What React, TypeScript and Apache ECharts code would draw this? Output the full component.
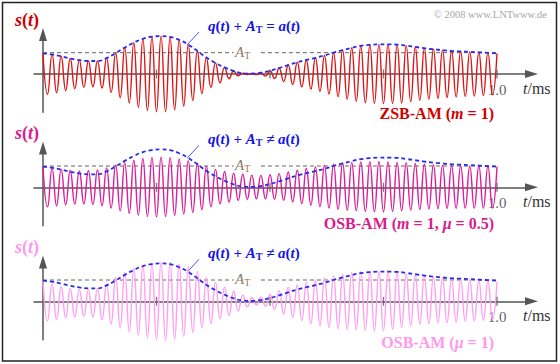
import React, { useEffect, useRef } from "react";
import * as echarts from "echarts";

// time step between successive carrier extremes (ms) and between envelope samples (ms)
const PEAK_STEP = 0.01;
const ENV_STEP = 0.02;
const A_T = 1; // carrier amplitude level
const AT_GAP = [0.42, 0.48]; // gap of the A_T reference line around its label
const xTickValues = [0.25, 0.5, 0.75, 1.0];
const xTickLabels = [1.0];

// envelope q(t) + A_T = a(t), sampled every 0.02 ms
const envelope = [
  0.97, 0.92, 0.83, 0.73, 0.65, 0.61, 0.61, 0.75, 0.98, 1.24, 1.47, 1.65, 1.75,
  1.78, 1.74, 1.6, 1.38, 1.08, 0.77, 0.52, 0.31, 0.14, 0.04, 0.02, 0.06, 0.15,
  0.28, 0.42, 0.55, 0.66, 0.76, 0.87, 1.0, 1.12, 1.23, 1.32, 1.37, 1.39, 1.39,
  1.38, 1.33, 1.27, 1.21, 1.16, 1.12, 1.08, 1.06, 1.04, 1.02, 0.99, 0.97,
];

// carrier extremes of s(t), one every 0.01 ms
const zsbPeaks = [
  0.97, -0.95, 0.92, -0.88, 0.83, -0.78, 0.73, -0.69, 0.65, -0.62,
  0.61, -0.6, 0.61, -0.66, 0.75, -0.86, 0.98, -1.11, 1.24, -1.36,
  1.47, -1.57, 1.65, -1.71, 1.75, -1.77, 1.78, -1.77, 1.74, -1.68,
  1.6, -1.5, 1.38, -1.24, 1.08, -0.92, 0.77, -0.63, 0.52, -0.41,
  0.31, -0.22, 0.14, -0.08, 0.04, -0.02, 0.02, -0.03, 0.06, -0.1,
  0.15, -0.21, 0.28, -0.35, 0.42, -0.49, 0.55, -0.61, 0.66, -0.71,
  0.76, -0.81, 0.87, -0.94, 1.0, -1.06, 1.12, -1.18, 1.23, -1.28,
  1.32, -1.35, 1.37, -1.38, 1.39, -1.39, 1.39, -1.39, 1.38, -1.36,
  1.33, -1.3, 1.27, -1.24, 1.21, -1.18, 1.16, -1.14, 1.12, -1.1,
  1.08, -1.07, 1.06, -1.05, 1.04, -1.03, 1.02, -1.01, 0.99, -0.98,
  0.97,
];

const osbHalfPeaks = [
  0.97, -0.92, 0.89, -0.87, 0.84, -0.82, 0.79, -0.79, 0.77, -0.78,
  0.78, -0.8, 0.81, -0.86, 0.91, -0.97, 1.04, -1.1, 1.16, -1.22,
  1.27, -1.31, 1.35, -1.37, 1.4, -1.39, 1.41, -1.37, 1.39, -1.32,
  1.33, -1.25, 1.25, -1.18, 1.13, -1.05, 0.98, -0.91, 0.84, -0.78,
  0.74, -0.69, 0.66, -0.62, 0.61, -0.57, 0.57, -0.54, 0.56, -0.54,
  0.59, -0.56, 0.64, -0.61, 0.72, -0.68, 0.8, -0.76, 0.88, -0.84,
  0.96, -0.91, 1.03, -0.97, 1.09, -1.03, 1.14, -1.07, 1.17, -1.1,
  1.19, -1.13, 1.2, -1.15, 1.2, -1.15, 1.19, -1.13, 1.17, -1.1,
  1.15, -1.07, 1.12, -1.04, 1.08, -1.02, 1.05, -1.0, 1.03, -0.99,
  1.01, -0.98, 1.0, -0.98, 0.99, -0.98, 0.99, -0.98, 0.98, -0.98,
  0.97,
];

const osbFullPeaks = [
  0.97, -0.92, 0.8, -0.85, 0.68, -0.78, 0.6, -0.74, 0.56, -0.71,
  0.55, -0.75, 0.6, -0.86, 0.8, -1.07, 1.12, -1.25, 1.36, -1.42,
  1.54, -1.58, 1.68, -1.72, 1.78, -1.82, 1.82, -1.85, 1.82, -1.78,
  1.75, -1.64, 1.6, -1.45, 1.4, -1.25, 1.12, -1.05, 0.89, -0.82,
  0.67, -0.66, 0.47, -0.46, 0.29, -0.26, 0.17, -0.17, 0.19, -0.23,
  0.32, -0.38, 0.5, -0.6, 0.66, -0.76, 0.77, -0.91, 0.89, -1.06,
  0.98, -1.15, 1.1, -1.23, 1.19, -1.28, 1.27, -1.32, 1.35, -1.34,
  1.4, -1.37, 1.41, -1.38, 1.39, -1.38, 1.37, -1.32, 1.34, -1.23,
  1.28, -1.15, 1.22, -1.08, 1.16, -1.05, 1.12, -1.0, 1.08, -1.0,
  1.05, -0.97, 1.02, -0.93, 1.0, -0.92, 0.97, -0.89, 0.95, -0.86,
  0.93,
];

const panelTitles = ["ZSB-AM", "OSB-AM", "OSB-AM"];
const panelParams = [
  [["m", " = 1"]],
  [["m", " = 1, "], ["μ", " = 0.5"]],
  [["μ", " = 1"]],
];
const envelopeRelations = ["=", "≠", "≠"];

const SERIF = "'Liberation Serif', 'DejaVu Serif', serif";
const panels = [
  { axisY: 74, peaks: zsbPeaks, color: "#dd1414", labelColor: "#cc0000", labelY: 113 },
  { axisY: 187.3, peaks: osbHalfPeaks, color: "#dc1c98", labelColor: "#d81b8f", labelY: 223 },
  { axisY: 301.3, peaks: osbFullPeaks, color: "#ff9ef2", labelColor: "#ff99ee", labelY: 342 },
];

const PX_PER_MS = 454;
const T0_X = 43;
const X_MIN = -0.02;
const X_MAX = 1.076;
const PX_PER_UNIT = 21.3;
const Y_MIN = -1.8;
const Y_MAX = 1.85;

export default function App() {
  const ref = useRef<HTMLDivElement>(null);
  useEffect(() => {
    if (!ref.current) return;
    const chart = echarts.init(ref.current, undefined, { renderer: "svg" });

    const grids: any[] = [];
    const xAxes: any[] = [];
    const yAxes: any[] = [];
    const series: any[] = [];
    const graphics: any[] = [];

    graphics.push({
      type: "rect",
      shape: { x: 2.5, y: 2.5, width: 554, height: 358.5 },
      style: { fill: "none", stroke: "#222", lineWidth: 1.5 },
      z: 10,
    });
    graphics.push({
      type: "text",
      x: 547,
      y: 14,
      style: {
        text: "© 2008 www.LNTwww.de",
        fill: "#a8a8a8",
        font: `10.5px ${SERIF}`,
        align: "right",
        verticalAlign: "middle",
      },
    });

    panels.forEach((p, i) => {
      grids.push({
        left: T0_X + X_MIN * PX_PER_MS,
        width: (X_MAX - X_MIN) * PX_PER_MS,
        top: p.axisY - Y_MAX * PX_PER_UNIT,
        height: (Y_MAX - Y_MIN) * PX_PER_UNIT,
      });
      xAxes.push({
        type: "value",
        gridIndex: i,
        min: X_MIN,
        max: X_MAX,
        axisLine: {
          onZero: true,
          symbol: ["none", "triangle"],
          symbolSize: [8, 13],
          lineStyle: { color: "#555", width: 1.5 },
        },
        axisTick: { show: false },
        axisLabel: { show: false },
        splitLine: { show: false },
      });
      yAxes.push({
        type: "value",
        gridIndex: i,
        min: Y_MIN,
        max: Y_MAX,
        axisLine: {
          onZero: true,
          symbol: ["none", "triangle"],
          symbolSize: [8, 13],
          lineStyle: { color: "#555", width: 1.5 },
        },
        axisTick: { show: false },
        axisLabel: { show: false },
        splitLine: { show: false },
      });

      const atStyle = { color: "#666", width: 1, type: [4, 3] };
      series.push({
        type: "line",
        xAxisIndex: i,
        yAxisIndex: i,
        data: [[0, A_T], [AT_GAP[0], A_T]],
        symbol: "none",
        lineStyle: atStyle,
        silent: true,
      });
      series.push({
        type: "line",
        xAxisIndex: i,
        yAxisIndex: i,
        data: [[AT_GAP[1], A_T], [1, A_T]],
        symbol: "none",
        lineStyle: atStyle,
        silent: true,
      });
      series.push({
        type: "line",
        xAxisIndex: i,
        yAxisIndex: i,
        data: p.peaks.map((v, k) => [k * PEAK_STEP, v]),
        symbol: "none",
        smooth: true,
        clip: false,
        lineStyle: { color: p.color, width: 1.4 },
      });
      series.push({
        type: "line",
        xAxisIndex: i,
        yAxisIndex: i,
        data: envelope.map((v, k) => [k * ENV_STEP, v]),
        symbol: "none",
        smooth: true,
        clip: false,
        lineStyle: { color: "#2a2aee", width: 1.8, type: [4, 3] },
      });
      series.push({
        type: "scatter",
        xAxisIndex: i,
        yAxisIndex: i,
        data: xTickValues.map((t) => [t, 0]),
        symbol: "rect",
        symbolSize: [1.3, 9],
        itemStyle: { color: "#555" },
        silent: true,
        z: 5,
      });
      series.push({
        type: "scatter",
        xAxisIndex: i,
        yAxisIndex: i,
        data: xTickLabels.map((t) => [t, 0]),
        symbolSize: 1,
        itemStyle: { color: "rgba(0,0,0,0)" },
        silent: true,
        label: {
          show: true,
          position: "bottom",
          distance: 8,
          formatter: (pr: any) => Number(pr.value[0]).toFixed(1),
          color: "#333",
          fontFamily: SERIF,
          fontSize: 15,
        },
      });

      const y0 = p.axisY;
      // s(t)
      graphics.push({
        type: "text",
        x: 15,
        y: y0 - 54,
        style: {
          text: "{i|s}{n|(}{i|t}{n|)}",
          verticalAlign: "middle",
          rich: {
            i: { fontFamily: SERIF, fontSize: 18, fontStyle: "italic", fontWeight: "bold", fill: p.labelColor },
            n: { fontFamily: SERIF, fontSize: 18, fontWeight: "bold", fill: p.labelColor },
          },
        },
      });
      // q(t) + A_T = a(t)
      const blue = "#1414e6";
      graphics.push({
        type: "text",
        x: 208,
        y: y0 - 48,
        style: {
          text: `{i|q}{n|(}{i|t}{n|) + }{i|A}{s|T}{n| ${envelopeRelations[i]} }{i|a}{n|(}{i|t}{n|)}`,
          verticalAlign: "middle",
          rich: {
            i: { fontFamily: SERIF, fontSize: 15, fontStyle: "italic", fontWeight: "bold", fill: blue },
            n: { fontFamily: SERIF, fontSize: 15, fontWeight: "bold", fill: blue },
            s: { fontFamily: SERIF, fontSize: 10, fontWeight: "bold", fill: blue, padding: [7, 0, 0, 0] },
          },
        },
      });
      graphics.push({
        type: "line",
        shape: { x1: 199, y1: y0 - 42, x2: 187, y2: y0 - 29 },
        style: { stroke: "#3344ee", lineWidth: 0.9 },
      });
      // A_T label
      graphics.push({
        type: "text",
        x: 235,
        y: y0 - 22,
        style: {
          text: "{i|A}{s|T}",
          verticalAlign: "middle",
          rich: {
            i: { fontFamily: SERIF, fontSize: 15, fontStyle: "italic", fill: "#8a7a6c" },
            s: { fontFamily: SERIF, fontSize: 10, fill: "#a07850", padding: [6, 0, 0, 0] },
          },
        },
      });
      // t/ms
      graphics.push({
        type: "text",
        x: 523,
        y: y0 + 14,
        style: {
          text: "{i|t}{n|/ms}",
          verticalAlign: "middle",
          rich: {
            i: { fontFamily: SERIF, fontSize: 16, fontStyle: "italic", fill: "#333" },
            n: { fontFamily: SERIF, fontSize: 16, fill: "#333" },
          },
        },
      });
      // bottom-right label
      const params = panelParams[i]
        .map(([sym, rest]) => `{i|${sym}}{n|${rest}}`)
        .join("");
      graphics.push({
        type: "text",
        x: 494,
        y: p.labelY,
        style: {
          text: `{n|${panelTitles[i]} (}${params}{n|)}`,
          align: "right",
          verticalAlign: "middle",
          rich: {
            i: { fontFamily: SERIF, fontSize: 16, fontStyle: "italic", fontWeight: "bold", fill: p.labelColor },
            n: { fontFamily: SERIF, fontSize: 16, fontWeight: "bold", fill: p.labelColor },
          },
        },
      });
    });

    chart.setOption({
      animation: false,
      backgroundColor: "#fff",
      grid: grids,
      xAxis: xAxes,
      yAxis: yAxes,
      series,
      graphic: graphics,
    });
    return () => chart.dispose();
  }, []);

  return (
    <div
      ref={ref}
      style={{ position: "fixed", left: 0, top: 0, width: 560, height: 364, background: "#fff" }}
    />
  );
}
